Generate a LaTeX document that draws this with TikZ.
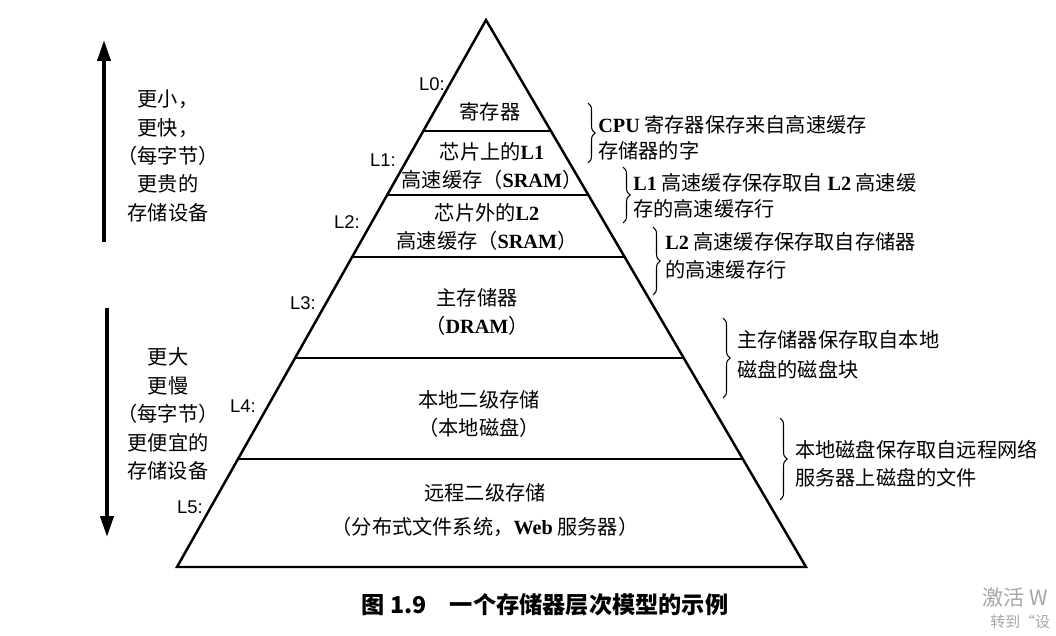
\documentclass[tikz,border=0pt]{standalone}
\usepackage{fontspec}
\setmainfont{Noto Sans CJK SC}
\newfontfamily\latserif{Liberation Serif}
\newfontfamily\latsans{Liberation Sans}
\usetikzlibrary{
    arrows.meta,
    calc,
    decorations.pathreplacing
}
\newcommand{\lb}[1]{{\latserif\bfseries #1}}

\tikzset{
  pyr/.style={line width=1.4pt, line join=miter},
  layer/.style={align=center, inner sep=0pt, font=\fontsize{11.5}{15.5}\selectfont},
  level/.style={inner sep=0pt, font=\latsans\fontsize{10.5}{12}\selectfont},
  note/.style={align=left, anchor=west, inner sep=0pt, font=\fontsize{11.5}{15}\selectfont},
  side/.style={align=center, inner sep=0pt, font=\fontsize{11.5}{16.2}\selectfont},
  bracket/.style={decorate, decoration={brace, amplitude=4pt}, line width=0.6pt},
  bigarrow/.style={line width=2.2pt, -{Triangle[length=0.42cm, width=0.26cm]}},
}

\begin{document}
\begin{tikzpicture}[x=0.02cm, y=-0.02cm]
  \useasboundingbox (0,0) rectangle (1056,636);

  % Pyramid outline
  \coordinate (apex) at (486,20);
  \coordinate (bl) at (177,567);
  \coordinate (br) at (806,567);
  \draw[pyr] (apex) -- (bl) -- (br) -- cycle;

  % Layer borders
  \foreach \t in {0.203,0.320,0.433,0.618,0.803}
    \draw[pyr] ($(apex)!\t!(bl)$) -- ($(apex)!\t!(br)$);

  % Layer contents
  \node[layer] (reg) at (490,112) {寄存器};
  \node[layer] (onchip) at (492,166) {芯片上的\lb{L1}\\高速缓存（\lb{SRAM}）};
  \node[layer] (offchip) at (487,227) {芯片外的\lb{L2}\\高速缓存（\lb{SRAM}）};
  \node[layer] (mem) at (477,312) {主存储器\\（\lb{DRAM}）};
  \node[layer] (local) at (479,414) {本地二级存储\\（本地磁盘）};
  \node[layer, font=\fontsize{11.5}{19.5}\selectfont] (remote) at (485,510)
    {远程二级存储\\（分布式文件系统，\lb{Web} 服务器）};

  % Level labels
  \node[level] (L0) at (432,84) {L0:};
  \node[level] (L1) at (383,160) {L1:};
  \node[level] (L2) at (347,222) {L2:};
  \node[level] (L3) at (303,303) {L3:};
  \node[level] (L4) at (243,406) {L4:};
  \node[level] (L5) at (190,507) {L5:};

  % Braces and notes
  \coordinate (b0t) at (588,103); \coordinate (b0b) at (588,163);
  \coordinate (b1t) at (623,167); \coordinate (b1b) at (623,223);
  \coordinate (b2t) at (653,227); \coordinate (b2b) at (653,295);
  \coordinate (b3t) at (723,318); \coordinate (b3b) at (723,398);
  \coordinate (b4t) at (780,418); \coordinate (b4b) at (780,500);
  \draw[bracket] (b0t) -- (b0b);
  \draw[bracket] (b1t) -- (b1b);
  \draw[bracket] (b2t) -- (b2b);
  \draw[bracket] (b3t) -- (b3b);
  \draw[bracket] (b4t) -- (b4b);
  \node[note] (n0) at (598,138) {\lb{CPU} 寄存器保存来自高速缓存\\存储器的字};
  \node[note] (n1) at (633,196) {\lb{L1} 高速缓存保存取自 \lb{L2} 高速缓\\存的高速缓存行};
  \node[note, font=\fontsize{11.5}{16}\selectfont] (n2) at (665,256) {\lb{L2} 高速缓存保存取自存储器\\的高速缓存行};
  \node[note, font=\fontsize{11.5}{17}\selectfont] (n3) at (737,355) {主存储器保存取自本地\\磁盘的磁盘块};
  \node[note, font=\fontsize{11.5}{16}\selectfont] (n4) at (795,464) {本地磁盘保存取自远程网络\\服务器上磁盘的文件};

  % Left side arrows
  \coordinate (upS) at (104,242);
  \coordinate (upE) at (104,40);
  \coordinate (dnS) at (107,308);
  \coordinate (dnE) at (107,537);
  \draw[bigarrow] (upS) -- (upE);
  \draw[bigarrow] (dnS) -- (dnE);
  \node[side] (fast) at (168,156) {更小，\\更快，\\（每字节）\\更贵的\\存储设备};
  \node[side] (slow) at (168,414) {更大\\更慢\\（每字节）\\更便宜的\\存储设备};

  % Caption
  \node[inner sep=0pt, font=\bfseries\fontsize{13.2}{15}\selectfont] (cap) at (545,605)
    {图 1.9\quad 一个存储器层次模型的示例};

  % Screen watermark
  \node[anchor=west, inner sep=0pt, text=black!35, font=\fontsize{12}{15}\selectfont] (wm1) at (982,597) {激活 W};
  \node[anchor=west, inner sep=0pt, text=black!35, font=\fontsize{8.5}{10}\selectfont] (wm2) at (990,622) {转到“设};
\end{tikzpicture}
\end{document}
